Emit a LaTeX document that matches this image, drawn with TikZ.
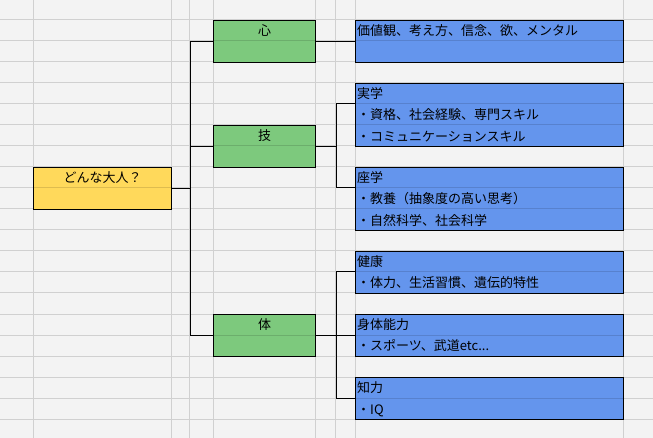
\documentclass[tikz,border=0pt]{standalone}
\usepackage{fontspec}
\setmainfont{Noto Sans CJK JP}
\usepackage{tikz}
\usetikzlibrary{positioning}

\definecolor{sheet}{HTML}{F3F3F3}
\definecolor{sheetgrid}{HTML}{D0D0D0}
\definecolor{qyellow}{HTML}{FFD95B}
\definecolor{catgreen}{HTML}{7DC97D}
\definecolor{itemblue}{HTML}{6495ED}

\begin{document}
\begin{tikzpicture}[
	x=1bp, y=-1bp,
	box/.style={draw, line width=1bp, inner sep=0pt, minimum height=42bp, anchor=north west},
	question/.style={box, fill=qyellow, minimum width=138bp},
	category/.style={box, fill=catgreen, minimum width=102bp},
	item/.style={box, fill=itemblue, minimum width=268bp},
	txt/.style={inner sep=0pt, text height=15.4bp, text depth=5.6bp, font=\fontsize{13bp}{15bp}\selectfont},
	link/.style={draw, line width=1bp},
	cell/.style={draw=black, draw opacity=0.13, line width=1bp}
]

\useasboundingbox (0,0) rectangle (653,438);
\fill[sheet] (0,0) rectangle (653,438);
% sheet grid
\foreach \gx in {33,171,189,213,315,335,355,623}
	\draw[sheetgrid, line width=1bp] (\gx,0) -- (\gx,438);
\foreach \k in {0,...,19}
	\draw[sheetgrid, line width=1bp] (0,{20+21*\k}) -- (653,{20+21*\k});

\node[question] (q) at (33,167) {};
\node[category] (kokoro) at (213,20) {};
\node[category] (gi) at (213,125) {};
\node[category] (tai) at (213,314) {};
\node[item] (kachi) at (355,20) {};
\node[item, minimum height=63bp] (jitsu) at (355,83) {};
\node[item, minimum height=63bp] (za) at (355,167) {};
\node[item] (kenko) at (355,251) {};
\node[item] (shintai) at (355,314) {};
\node[item] (chiryoku) at (355,377) {};

% row lines inside the boxes
\foreach \b/\n in {q/1,kokoro/1,gi/1,tai/1,kachi/1,jitsu/2,za/2,kenko/1,shintai/1,chiryoku/1}
	\foreach \r in {1,...,\n}
		\draw[cell] ([yshift=-21bp*\r]\b.north west) -- ([yshift=-21bp*\r]\b.north east);

\node[txt, anchor=north] (qt) at (q.north) {どんな大人？};
\node[txt, anchor=north] (kokorot) at (kokoro.north) {心};
\node[txt, anchor=north] (git) at (gi.north) {技};
\node[txt, anchor=north] (tait) at (tai.north) {体};

\node[txt, anchor=north west] (kachi1) at ([xshift=2bp]kachi.north west) {価値観、考え方、信念、欲、メンタル};
\node[txt, anchor=north west] (jitsu1) at ([xshift=2bp]jitsu.north west) {実学};
\node[txt, below=0pt of jitsu1.south west, anchor=north west] (jitsu2) {・資格、社会経験、専門スキル};
\node[txt, below=0pt of jitsu2.south west, anchor=north west] (jitsu3) {・コミュニケーションスキル};
\node[txt, anchor=north west] (za1) at ([xshift=2bp]za.north west) {座学};
\node[txt, below=0pt of za1.south west, anchor=north west] (za2) {・教養（抽象度の高い思考）};
\node[txt, below=0pt of za2.south west, anchor=north west] (za3) {・自然科学、社会科学};
\node[txt, anchor=north west] (kenko1) at ([xshift=2bp]kenko.north west) {健康};
\node[txt, below=0pt of kenko1.south west, anchor=north west] (kenko2) {・体力、生活習慣、遺伝的特性};
\node[txt, anchor=north west] (shintai1) at ([xshift=2bp]shintai.north west) {身体能力};
\node[txt, below=0pt of shintai1.south west, anchor=north west] (shintai2) {・スポーツ、武道etc...};
\node[txt, anchor=north west] (chiryoku1) at ([xshift=2bp]chiryoku.north west) {知力};
\node[txt, below=0pt of chiryoku1.south west, anchor=north west] (chiryoku2) {・IQ};

% tree
\draw[link] (q.east) -- ++(18,0) coordinate (qfork);
\draw[link] (qfork) |- (kokoro.west);
\draw[link] (qfork) |- (gi.west);
\draw[link] (qfork) |- (tai.west);
\draw[link] (kokoro.east) -- (kachi.west);
\draw[link] (gi.east) -- ++(20,0) coordinate (gifork);
\draw[link] (gifork) |- ([yshift=-21bp]jitsu.north west);
\draw[link] (gifork) |- ([yshift=-21bp]za.north west);
\draw[link] (tai.east) -- ++(20,0) coordinate (taifork);
\draw[link] (taifork) |- ([yshift=-21bp]kenko.north west);
\draw[link] (taifork) |- (shintai.west);
\draw[link] (taifork) |- (chiryoku.west);
\end{tikzpicture}
\end{document}
